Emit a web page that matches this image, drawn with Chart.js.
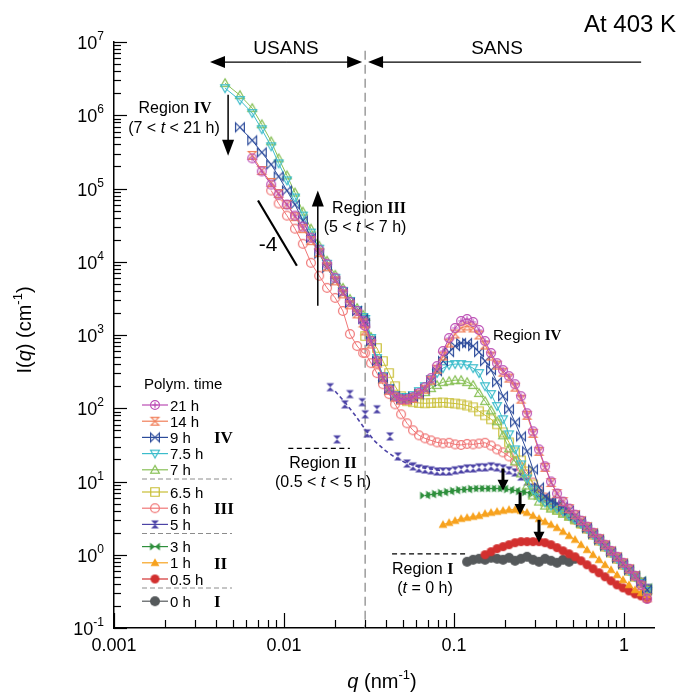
<!DOCTYPE html>
<html><head><meta charset="utf-8">
<script src="https://cdn.jsdelivr.net/npm/chart.js@4.4.1/dist/chart.umd.min.js"></script>
<style>html,body{margin:0;padding:0;background:#fff;}canvas{display:block;}</style>
</head><body>
<canvas id="c" width="680" height="693"></canvas>
<script>
// ---------------- DATA ----------------
const seriesLabels = ['21 h','14 h','9 h','7.5 h','7 h','6.5 h','6 h','5 h','3 h','1 h','0.5 h','0 h'];
const xTickValues = [0.001, 0.01, 0.1, 1];
const xTickLabels = ['0.001', '0.01', '0.1', '1'];
const yTickExps = [-1, 0, 1, 2, 3, 4, 5, 6, 7];

// USANS q grid (nm^-1)
const qUSANS = [0.0045, 0.0055, 0.0065, 0.0074, 0.0084, 0.0093, 0.0104, 0.0116, 0.0129, 0.0144, 0.0161, 0.0179, 0.0200, 0.0222, 0.0244, 0.0269, 0.0292];
// SANS q grid (nm^-1)
const qSANS = [0.0300, 0.0325, 0.0352, 0.0382, 0.0415, 0.0450, 0.0488, 0.0529, 0.0574, 0.0622, 0.0675, 0.0732, 0.0794, 0.0861, 0.0935, 0.1014, 0.1100, 0.1193, 0.1294, 0.1403, 0.1522, 0.1651, 0.1790, 0.1942, 0.2106, 0.2285, 0.2478, 0.2688, 0.2915, 0.3162, 0.3430, 0.3720, 0.4035, 0.4377, 0.4747, 0.5149, 0.5585, 0.6058, 0.6571, 0.7127, 0.7730, 0.8384, 0.9094, 0.9865, 1.070, 1.161, 1.259, 1.366];

// USANS intensities (cm^-1)
const u21 = [null, null, 2.58e5, 1.71e5, 1.13e5, 8.27e4, 6.04e4, 4.27e4, 3.02e4, 2.13e4, 1.46e4, 9.39e3, 6.04e3, 4.01e3, 2.83e3, 2.13e3, 1.56e3];
const u14 = [null, null, 2.83e5, 1.76e5, 1.21e5, 8.54e4, 6.04e4, 4.13e4, 2.83e4, 1.94e4, 1.33e4, 8.54e3, 5.49e3, 3.64e3, 2.58e3, 1.94e3, 1.46e3];
const u9  = [null, 6.85e5, 4.54e5, 3.11e5, 2.13e5, 1.46e5, 9.39e4, 6.04e4, 3.64e4, 2.13e4, 1.29e4, 8.27e3, 5.49e3, 3.76e3, 2.74e3, 2.13e3, 1.66e3];
const u75 = [2.34e6, 1.61e6, 1.07e6, 6.43e5, 3.76e5, 2.20e5, 1.29e5, 7.53e4, 4.27e4, 2.50e4, 1.51e4, 9.39e3, 6.04e3, 4.01e3, 2.92e3, 2.20e3, 1.76e3];
const u7  = [2.74e6, 1.88e6, 1.25e6, 7.53e5, 4.40e5, 2.58e5, 1.51e5, 8.81e4, 4.84e4, 2.83e4, 1.66e4, 1.03e4, 6.64e3, 4.40e3, 3.11e3, 2.34e3, 1.88e3];
const u6  = [null, null, null, null, 9.39e4, 6.23e4, 4.27e4, 2.83e4, 1.76e4, 9.69e3, 6.43e3, 4.40e3, 3.21e3, 2.13e3, 1.03e3, 707, 567];

// SANS intensities (cm^-1)
const s21 = [1328, 827, 440, 266, 182, 146, 133, 133, 142, 161, 194, 258, 376, 604, 910, 1247, 1555, 1656, 1507, 1171, 827, 567, 413, 332, 274, 213, 146, 85.4, 48.4, 27.4, 16.1, 10.0, 6.85, 5.32, 4.27, 3.53, 2.92, 2.42, 2.00, 1.66, 1.37, 1.13, 0.939, 0.777, 0.643, 0.516, 0.388, 0.250];
const s14 = [1134, 753, 413, 250, 176, 142, 129, 129, 137, 156, 182, 242, 342, 516, 777, 1032, 1247, 1328, 1247, 1000, 729, 516, 388, 311, 258, 194, 133, 80.2, 45.4, 25.8, 15.6, 9.69, 6.85, 5.32, 4.27, 3.53, 2.92, 2.42, 2.00, 1.66, 1.37, 1.13, 0.939, 0.777, 0.643, 0.516, 0.376, 0.258];
const s9  = [1460, 827, 440, 258, 182, 146, 133, 133, 142, 156, 182, 234, 321, 440, 585, 707, 777, 777, 707, 585, 440, 332, 227, 146, 96.9, 64.3, 41.3, 25.8, 14.6, 8.27, 6.23, 5.49, 5.00, 4.54, 4.01, 3.42, 2.83, 2.34, 1.94, 1.61, 1.33, 1.10, 0.910, 0.753, 0.623, 0.516, 0.427, 0.332];
const s75 = [1656, 910, 484, 274, 188, 151, 142, 142, 151, 171, 200, 250, 302, 353, 388, 401, 401, 388, 353, 302, 200, 156, 107, 70.7, 44.0, 27.4, 17.1, 11.0, 7.77, 6.04, 5.16, 4.69, 4.27, 3.88, 3.42, 3.02, 2.66, 2.27, 1.88, 1.56, 1.29, 1.07, 0.881, 0.729, 0.604, 0.500, 0.413, 0.321];
const s7  = [1764, 939, 469, 266, 182, 146, 133, 133, 142, 151, 166, 188, 207, 227, 234, 242, 242, 227, 207, 161, 125, 93.9, 66.4, 42.7, 28.3, 18.8, 12.9, 8.81, 6.43, 5.32, 4.69, 4.27, 4.01, 3.64, 3.32, 3.02, 2.66, 2.34, 1.94, 1.61, 1.33, 1.10, 0.910, 0.753, 0.623, 0.516, 0.427, 0.332];
const s65 = [969, 827, 664, 440, 302, 200, 146, 125, 121, 118, 117, 118, 119, 120, 118, 116, 113, 109, 103, 91.0, 80.2, 70.7, 60.4, 46.9, 34.2, 25.0, 19.4, 13.7, 9.10, 6.64, 5.32, 4.54, 4.13, 3.76, 3.42, 3.02, 2.66, 2.27, 1.88, 1.56, 1.29, 1.07, 0.881, 0.729, 0.604, 0.500, 0.413, 0.321];
const s6  = [567, 413, 302, 213, 156, 113, 82.7, 62.3, 50.0, 42.7, 38.8, 36.4, 34.2, 33.2, 33.8, 32.1, 31.5, 32.6, 32.1, 33.0, 33.8, 31.0, 27.4, 25.0, 22.0, 18.8, 15.6, 12.5, 9.69, 7.53, 6.04, 5.00, 4.40, 3.88, 3.42, 3.02, 2.66, 2.27, 1.88, 1.56, 1.29, 1.07, 0.881, 0.729, 0.604, 0.500, 0.413, 0.321];
const s5  = [null, null, null, null, null, null, null, 17.6, 16.1, 15.1, 14.6, 14.2, 13.7, 13.7, 13.7, 14.2, 14.6, 15.1, 15.1, 15.6, 15.6, 16.1, 15.6, 15.1, 14.2, 13.3, 11.7, 10.0, 8.27, 6.85, 5.85, 5.16, 4.54, 4.01, 3.53, 3.11, 2.66, 2.27, 1.94, 1.61, 1.33, 1.10, 0.910, 0.753, 0.623, 0.516, 0.427, 0.353];
const s3  = [null, null, null, null, null, null, null, null, null, null, 6.43, 6.64, 6.85, 7.07, 7.29, 7.53, 7.77, 7.77, 8.02, 8.02, 8.02, 8.02, 8.02, 8.02, 7.77, 7.53, 7.29, 7.07, 6.64, 6.23, 5.85, 5.32, 4.84, 4.27, 3.64, 3.11, 2.66, 2.27, 1.94, 1.61, 1.33, 1.10, 0.910, 0.753, 0.643, 0.532, 0.454, 0.364];
const s1  = [null, null, null, null, null, null, null, null, null, null, null, null, null, 2.58, 2.74, 2.92, 3.11, 3.21, 3.32, 3.42, 3.64, 3.76, 3.88, 4.01, 4.13, 4.13, 4.01, 3.76, 3.42, 3.11, 2.83, 2.58, 2.34, 2.07, 1.82, 1.61, 1.37, 1.17, 1.00, 0.854, 0.729, 0.623, 0.532, 0.454, 0.388, 0.332, 0.302, 0.283];
const s05 = [null, null, null, null, null, null, null, null, null, null, null, null, null, null, null, null, null, null, null, null, 1.00, 1.10, 1.21, 1.29, 1.37, 1.46, 1.51, 1.51, 1.51, 1.51, 1.46, 1.37, 1.25, 1.13, 1.03, 0.939, 0.827, 0.729, 0.643, 0.567, 0.500, 0.440, 0.388, 0.353, 0.321, 0.292, 0.274, 0.250];
const s0  = [null, null, null, null, null, null, null, null, null, null, null, null, null, null, null, null, null, 0.802, 0.854, 0.881, 0.854, 0.910, 0.881, 0.854, 0.910, 0.827, 0.881, 0.939, 0.854, 0.802, 0.881, 0.827, 0.777, 0.854, 0.802, 0.881, null, null, null, null, null, null, null, null, null, null, null, null];

// 5 h scattered low-q points
const q5scatter = [0.0187, 0.0205, 0.0228, 0.0244, 0.0288, 0.0300, 0.0308, 0.0352, 0.0420, 0.0468];
const I5scatter = [194, 37.6, 113, 156, 121, 82.7, 45.4, 96.9, 41.3, 22.0];
// 5 h guide (dashed)
const qFit5 = [0.0200, 0.0228, 0.0262, 0.0300, 0.0343, 0.0393, 0.0450, 0.0515, 0.0631, 0.0827];
const IFit5 = [171, 121, 80.2, 51.6, 35.3, 26.6, 21.3, 18.2, 15.6, 14.2];
// -4 slope guide
const qSlope = [0.00703, 0.0119];
const ISlope = [6.85e4, 8.81e3];

// ---------------- STYLE ----------------
const SANS = '"Liberation Sans", Arial, Helvetica, sans-serif';
const SERIF = '"Liberation Serif", "DejaVu Serif", serif';
const seriesColors = ['#bb4db5', '#f07e58', '#2c4b9b', '#3bbccb', '#88c056', '#c9bf35', '#f07676', '#4c43a6', '#2e8f3c', '#f7a21e', '#d2302f', '#55595b'];
const seriesKinds = ['circlePlus', 'hourglassOpen', 'bowtieOpen', 'triDownOpen', 'triOpen', 'squareOpen', 'circleOpen', 'hourglassFilled', 'bowtieFilled', 'triFilled', 'circleFilled', 'circleFilled'];
const seriesSizes = [10, 9, 10, 10, 10, 10, 10, 9, 11, 10, 9, 10];
const usansValues = [u21, u14, u9, u75, u7, null, u6, null, null, null, null, null];
const sansValues = [s21, s14, s9, s75, s7, s65, s6, s5, s3, s1, s05, s0];

function makeMarker(kind, color, size) {
  const pad = 2, S = Math.ceil(size + pad * 2);
  const c = document.createElement('canvas'); c.width = S; c.height = S;
  const g = c.getContext('2d'); g.translate(S / 2, S / 2);
  const r = size / 2, a = r - 0.6;
  g.strokeStyle = color; g.fillStyle = color; g.lineWidth = 1.2;
  g.beginPath();
  const filled = kind.endsWith('Filled');
  if (kind === 'circlePlus') {
    g.arc(0, 0, a, 0, Math.PI * 2);
    g.moveTo(-r * 0.55, 0); g.lineTo(r * 0.55, 0); g.moveTo(0, -r * 0.55); g.lineTo(0, r * 0.55);
  } else if (kind.startsWith('circle')) {
    g.arc(0, 0, filled ? r : a, 0, Math.PI * 2);
  } else if (kind.startsWith('hourglass')) {
    g.moveTo(-a, -a); g.lineTo(a, -a); g.lineTo(-a, a); g.lineTo(a, a); g.closePath();
  } else if (kind.startsWith('bowtie')) {
    const h = filled ? a * 0.8 : a;
    g.moveTo(-a, -h); g.lineTo(-a, h); g.lineTo(a, -h); g.lineTo(a, h); g.closePath();
  } else if (kind === 'triDownOpen') {
    g.moveTo(0, a); g.lineTo(a, -a * 0.75); g.lineTo(-a, -a * 0.75); g.closePath();
  } else if (kind.startsWith('tri')) {
    g.moveTo(0, -a); g.lineTo(a, a * 0.75); g.lineTo(-a, a * 0.75); g.closePath();
  } else if (kind === 'squareOpen') {
    const b = r * 0.85; g.rect(-b, -b, 2 * b, 2 * b);
  }
  if (filled) g.fill(); else g.stroke();
  return c;
}
const markers = seriesKinds.map((k, i) => makeMarker(k, seriesColors[i], seriesSizes[i]));

function pts(qs, vals) { const o = []; qs.forEach((q, i) => { if (vals[i] != null) o.push({ x: q, y: vals[i] }); }); return o; }

const datasets = [];
seriesLabels.forEach((lab, i) => {
  let data = [];
  if (usansValues[i]) data = data.concat(pts(qUSANS, usansValues[i]));
  if (i === 7) data = data.concat(pts(q5scatter, I5scatter));
  data = data.concat(pts(qSANS, sansValues[i]));
  data.sort((p, q) => p.x - q.x);
  datasets.push({ label: lab, data, borderColor: seriesColors[i], backgroundColor: seriesColors[i], borderWidth: 1,
    pointStyle: markers[i], pointRadius: 5, showLine: i !== 7, tension: 0, order: i + 1 });
});
datasets.push({ label: '5 h guide', data: pts(qFit5, IFit5), borderColor: seriesColors[7], borderDash: [4, 3], borderWidth: 1.6, pointRadius: 0, showLine: true, order: 0 });
datasets.push({ label: 'slope -4', data: pts(qSlope, ISlope), borderColor: '#000', borderWidth: 2.2, pointRadius: 0, showLine: true, order: 0 });

// annotation anchors in data coordinates
const usansLimitQ = 0.03, dashTopI = 7.6e6;
const arrowRowI = 5.32e6;
const usansArrowQ = [0.00367, 0.0288];
const sansArrowQ = [0.0312, 1.26];
const regionIVArrow = { q: 0.00469, from: 1.9e6, to: 2.8e5 };
const regionIIIArrow = { q: 0.0158, from: 2.5e3, to: 9.4e4 };
const peakArrows = [[0.194, 15.1, 7.5], [0.2445, 7.1, 3.5], [0.316, 3.0, 1.46]];
const regionIILine = { q1: 0.0106, q2: 0.0244, I: 28.3 };
const regionILine = { q1: 0.0432, q2: 0.12, I: 1.03 };

function rich(ctx, parts, x, y, align) {
  ctx.textBaseline = 'alphabetic';
  let w = 0; parts.forEach(p => { ctx.font = p.f; w += ctx.measureText(p.t).width; });
  let cx = align === 'center' ? x - w / 2 : align === 'right' ? x - w : x;
  parts.forEach(p => { ctx.font = p.f; ctx.fillStyle = '#000'; ctx.fillText(p.t, cx, y + (p.dy || 0)); cx += ctx.measureText(p.t).width; });
}
function arrow(ctx, x1, y1, x2, y2, head, hw, lw) {
  const an = Math.atan2(y2 - y1, x2 - x1), c = Math.cos(an), s = Math.sin(an);
  ctx.lineWidth = lw; ctx.beginPath(); ctx.moveTo(x1, y1); ctx.lineTo(x2 - c * head * 0.7, y2 - s * head * 0.7); ctx.stroke();
  ctx.beginPath(); ctx.moveTo(x2, y2);
  ctx.lineTo(x2 - c * head + s * hw, y2 - s * head - c * hw);
  ctx.lineTo(x2 - c * head - s * hw, y2 - s * head + c * hw);
  ctx.closePath(); ctx.fill();
}

const F = (sz, st) => (st ? st + ' ' : '') + sz + 'px ' + SANS;
const FB = sz => 'bold ' + sz + 'px ' + SERIF;

const legendRows = [405, 421.2, 437.4, 453.6, 469.8, 492, 508.2, 524.4, 546.6, 562.8, 579, 601.2];
const legendSeps = [479, 533.5, 588];
const romanRows = [['IV', 437.4], ['III', 508.2], ['II', 562.8], ['I', 601.2]];

const decor = {
  id: 'decor',
  beforeDatasetsDraw(chart) {
    const { ctx, chartArea: a, scales: { x, y } } = chart;
    ctx.save();
    ctx.strokeStyle = '#8c8c8c'; ctx.lineWidth = 1.3; ctx.setLineDash([9, 5]);
    const px = x.getPixelForValue(usansLimitQ);
    ctx.beginPath(); ctx.moveTo(px, y.getPixelForValue(dashTopI)); ctx.lineTo(px, a.bottom); ctx.stroke();
    ctx.restore();
  },
  afterDraw(chart) {
    const { ctx, chartArea: a, scales: { x, y } } = chart;
    const X = v => x.getPixelForValue(v), Y = v => y.getPixelForValue(v);
    ctx.save();
    ctx.strokeStyle = '#000'; ctx.fillStyle = '#000'; ctx.setLineDash([]);
    // inward ticks
    ctx.lineWidth = 1.2;
    yTickExps.forEach(e => {
      for (let m = 1; m <= 9; m++) {
        const v = m * Math.pow(10, e); if (v > 1.0001e7) break;
        const py = Math.round(Y(v)) + 0.5;
        ctx.beginPath(); ctx.moveTo(a.left, py); ctx.lineTo(a.left + (m === 1 ? 13 : 7), py); ctx.stroke();
      }
    });
    xTickValues.forEach(t => {
      for (let m = 1; m <= 9; m++) {
        const v = m * t; if (v > 1.5) break;
        const px = Math.round(X(v)) + 0.5;
        ctx.beginPath(); ctx.moveTo(px, a.bottom); ctx.lineTo(px, a.bottom - (m === 1 ? 15 : 8)); ctx.stroke();
      }
    });
    // y tick labels 10^n
    yTickExps.forEach(e => {
      const py = Y(Math.pow(10, e));
      const sup = String(e);
      ctx.font = F(12); const sw = ctx.measureText(sup).width;
      ctx.font = F(18); const bw = ctx.measureText('10').width;
      const right = 104;
      ctx.fillText('10', right - sw - bw, py + 7);
      ctx.font = F(12); ctx.fillText(sup, right - sw, py - 2);
    });
    // axis titles
    ctx.save(); ctx.translate(24, 330); ctx.rotate(-Math.PI / 2);
    rich(ctx, [{ t: 'I(', f: F(20) }, { t: 'q', f: F(20, 'italic') }, { t: ') (cm', f: F(20) }, { t: '-1', f: F(13), dy: -9 }, { t: ')', f: F(20) }], 0, 7, 'center');
    ctx.restore();
    rich(ctx, [{ t: 'q', f: F(20, 'italic') }, { t: ' (nm', f: F(20) }, { t: '-1', f: F(13), dy: -9 }, { t: ')', f: F(20) }], 382, 688, 'center');

    // top-right
    rich(ctx, [{ t: 'At 403 K', f: F(24) }], 676, 32, 'right');

    // USANS / SANS arrows
    ctx.strokeStyle = '#000'; ctx.fillStyle = '#000';
    const ay = Y(arrowRowI);
    const u1 = X(usansArrowQ[0]), u2 = X(usansArrowQ[1]);
    const um = (u1 + u2) / 2;
    arrow(ctx, um, ay, u1, ay, 15, 6, 1.3);
    arrow(ctx, um, ay, u2, ay, 15, 6, 1.3);
    const s1x = X(sansArrowQ[0]), s2x = X(sansArrowQ[1]);
    arrow(ctx, s2x, ay, s1x, ay, 15, 6, 1.3);
    rich(ctx, [{ t: 'USANS', f: F(19) }], um, ay - 8, 'center');
    rich(ctx, [{ t: 'SANS', f: F(19) }], 497, ay - 8, 'center');

    // Region IV (top-left)
    const r4x = X(regionIVArrow.q);
    arrow(ctx, r4x, Y(regionIVArrow.from), r4x, Y(regionIVArrow.to), 16, 6, 1.5);
    rich(ctx, [{ t: 'Region ', f: F(16) }, { t: 'IV', f: FB(16) }], 175, 113, 'center');
    rich(ctx, [{ t: '(7 < ', f: F(16) }, { t: 't', f: F(16, 'italic') }, { t: ' < 21 h)', f: F(16) }], 174, 133, 'center');

    // Region III
    const r3x = X(regionIIIArrow.q);
    arrow(ctx, r3x, Y(regionIIIArrow.from), r3x, Y(regionIIIArrow.to), 16, 6, 1.5);
    rich(ctx, [{ t: 'Region ', f: F(16) }, { t: 'III', f: FB(16) }], 369, 213, 'center');
    rich(ctx, [{ t: '(5 < ', f: F(16) }, { t: 't', f: F(16, 'italic') }, { t: ' < 7 h)', f: F(16) }], 365, 232, 'center');

    // -4
    rich(ctx, [{ t: '-4', f: F(21) }], 268, 251, 'center');

    // Region IV near peak
    rich(ctx, [{ t: 'Region ', f: F(15) }, { t: 'IV', f: FB(15) }], 493, 340, 'left');

    // Region II / I dashed markers
    ctx.lineWidth = 1.2; ctx.setLineDash([5, 3.5]);
    ctx.beginPath(); ctx.moveTo(X(regionIILine.q1), Y(regionIILine.I)); ctx.lineTo(X(regionIILine.q2), Y(regionIILine.I)); ctx.stroke();
    ctx.beginPath(); ctx.moveTo(X(regionILine.q1), Y(regionILine.I)); ctx.lineTo(X(regionILine.q2), Y(regionILine.I)); ctx.stroke();
    ctx.setLineDash([]);
    rich(ctx, [{ t: 'Region ', f: F(16) }, { t: 'II', f: FB(16) }], 323, 468, 'center');
    rich(ctx, [{ t: '(0.5 < ', f: F(16) }, { t: 't', f: F(16, 'italic') }, { t: ' < 5 h)', f: F(16) }], 323, 487, 'center');
    rich(ctx, [{ t: 'Region ', f: F(16) }, { t: 'I', f: FB(16) }], 392, 574, 'left');
    rich(ctx, [{ t: '(', f: F(16) }, { t: 't', f: F(16, 'italic') }, { t: ' = 0 h)', f: F(16) }], 425, 593, 'center');

    // peak arrows
    peakArrows.forEach(([q, i1, i2]) => { const px = X(q); arrow(ctx, px, Y(i1), px, Y(i2), 11, 5.5, 3); });

    // legend
    rich(ctx, [{ t: 'Polym. time', f: F(15) }], 144, 389, 'left');
    legendRows.forEach((ly, i) => {
      ctx.strokeStyle = seriesColors[i]; ctx.lineWidth = 1.2;
      ctx.beginPath(); ctx.moveTo(142, ly); ctx.lineTo(168, ly); ctx.stroke();
      const m = markers[i]; ctx.drawImage(m, 155 - m.width / 2, ly - m.height / 2);
      rich(ctx, [{ t: seriesLabels[i], f: F(15) }], 170, ly + 5.5, 'left');
    });
    ctx.strokeStyle = '#8c8c8c'; ctx.lineWidth = 1; ctx.setLineDash([5, 3]);
    legendSeps.forEach(sy => { ctx.beginPath(); ctx.moveTo(142, sy); ctx.lineTo(232, sy); ctx.stroke(); });
    ctx.setLineDash([]);
    romanRows.forEach(([t, ry]) => rich(ctx, [{ t, f: FB(17) }], 214, ry + 6, 'left'));
    ctx.restore();
  }
};

new Chart(document.getElementById('c'), {
  type: 'scatter',
  data: { datasets },
  plugins: [decor],
  options: {
    responsive: false, animation: false, devicePixelRatio: 1,
    layout: { padding: { top: 42, right: 26, left: 0, bottom: 0 } },
    plugins: { legend: { display: false }, tooltip: { enabled: false } },
    elements: { line: { tension: 0 } },
    scales: {
      x: {
        type: 'logarithmic', min: 0.001, max: 1.5, position: 'bottom',
        grid: { display: false, drawTicks: false },
        border: { display: true, color: '#000', width: 1.5 },
        ticks: { color: '#000', font: { family: SANS, size: 18 }, padding: 7, autoSkip: false, maxRotation: 0,
          callback: (v) => { const k = xTickValues.findIndex(t => Math.abs(t - v) / t < 1e-6); return k >= 0 ? xTickLabels[k] : ''; } },
        afterBuildTicks: (s) => { s.ticks = xTickValues.map(v => ({ value: v })); },
        afterFit: (s) => { s.height = 65; }
      },
      y: {
        type: 'logarithmic', min: 0.1, max: 1e7,
        grid: { display: false, drawTicks: false },
        border: { display: true, color: '#000', width: 1.5 },
        ticks: { display: false },
        afterBuildTicks: (s) => { s.ticks = yTickExps.map(e => ({ value: Math.pow(10, e) })); },
        afterFit: (s) => { s.width = 114; }
      }
    }
  }
});
</script>
</body></html>
